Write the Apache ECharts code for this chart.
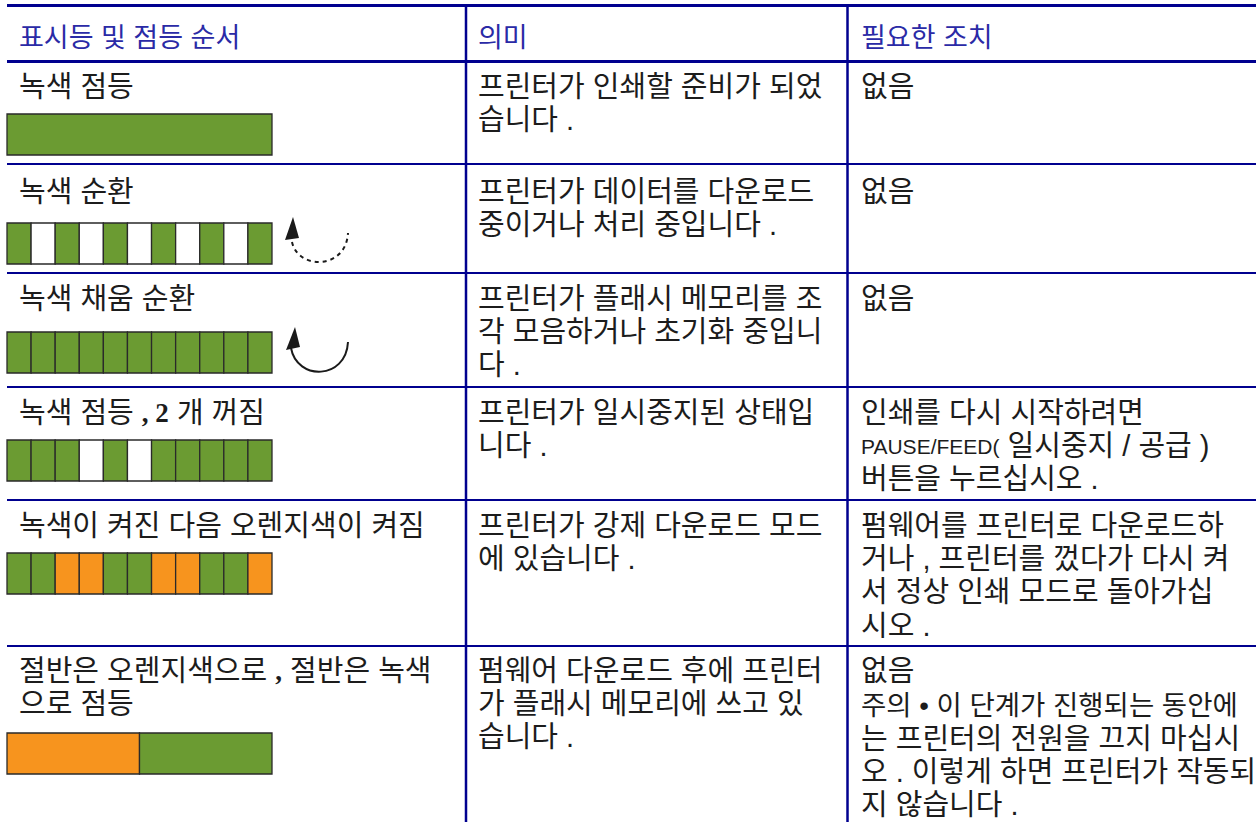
<!DOCTYPE html>
<html>
<head>
<meta charset="utf-8">
<script src="https://cdn.jsdelivr.net/npm/echarts@6/dist/echarts.min.js"></script>
<style>
html,body{margin:0;padding:0;background:#ffffff;}
#chart{width:1256px;height:825px;}
</style>
</head>
<body>
<div id="chart"></div>
<script>
// ---------- content ----------
const headers = ['표시등 및 점등 순서', '의미', '필요한 조치'];

const col1Text = [
  ['녹색 점등'],
  ['녹색 순환'],
  ['녹색 채움 순환'],
  ['녹색 점등 {b|, 2} 개 꺼짐'],
  ['녹색이 켜진 다음 오렌지색이 켜짐'],
  ['절반은 오렌지색으로 {b|,} 절반은 녹색', '으로 점등']
];
const col2Text = [
  ['프린터가 인쇄할 준비가 되었', '습니다 .'],
  ['프린터가 데이터를 다운로드', '중이거나 처리 중입니다 .'],
  ['프린터가 플래시 메모리를 조', '각 모음하거나 초기화 중입니', '다 .'],
  ['프린터가 일시중지된 상태입', '니다 .'],
  ['프린터가 강제 다운로드 모드', '에 있습니다 .'],
  ['펌웨어 다운로드 후에 프린터', '가 플래시 메모리에 쓰고 있', '습니다 .']
];
// each cell: list of paragraphs, each paragraph a list of lines
const col3Text = [
  [['없음']],
  [['없음']],
  [['없음']],
  [['인쇄를 다시 시작하려면', '{l|PAUSE/FEED(} 일시중지 / 공급 )', '버튼을 누르십시오 .']],
  [['펌웨어를 프린터로 다운로드하', '거나 , 프린터를 껐다가 다시 켜', '서 정상 인쇄 모드로 돌아가십', '시오 .']],
  [['없음'], ['{n|주의 • 이 단계가 진행되는 동안에}', '는 프린터의 전원을 끄지 마십시', '오 . 이렇게 하면 프린터가 작동되', '지 않습니다 .']]
];

// LED sequences: G = green on, W = off, O = orange on (each entry = one equal time slot)
const ledRows = [
  ['G'],
  ['G','W','G','W','G','W','G','W','G','W','G'],
  ['G','G','G','G','G','G','G','G','G','G','G'],
  ['G','G','G','W','G','W','G','G','G','G','G'],
  ['G','G','O','O','G','G','O','O','G','G','O'],
  ['O','G']
];
const ledCode = {W:0, G:1, O:2};

// ---------- layout / style ----------
const NAVY = '#00008f';
const HEAD = '#2a2aa6';
const INK = '#1c1c1c';
const palette = ['#ffffff', '#6b9b32', '#f7941e'];
const KFONT = '"Liberation Sans", "Noto Sans CJK KR", sans-serif';

const rowLines = [164, 273, 387, 500, 646];
const firstLineY = [87, 192, 299, 413, 526, 671];
const barTop = [114, 223, 332, 440, 553, 733];
const barH = 41;
const barLeft = 7, barW = 265;
const colX = [19, 478, 861];
const LH = 33.2;
const PARA_GAP = 1.5;

const graphics = [];
// table lines
graphics.push({type:'line', shape:{x1:7,y1:5.5,x2:1256,y2:5.5}, style:{stroke:NAVY,lineWidth:3}});
graphics.push({type:'line', shape:{x1:7,y1:61.5,x2:1256,y2:61.5}, style:{stroke:NAVY,lineWidth:3}});
rowLines.forEach(y => graphics.push({type:'line', shape:{x1:7,y1:y,x2:1256,y2:y}, style:{stroke:NAVY,lineWidth:2}}));
[466, 847.5].forEach(x => graphics.push({type:'line', shape:{x1:x,y1:4,x2:x,y2:822}, style:{stroke:NAVY,lineWidth:2.5}}));

// headers
headers.forEach((t, i) => graphics.push({
  type:'text', x:colX[i], y:38,
  style:{text:t, fill:HEAD, fontFamily:KFONT, fontSize:27, lineHeight:30, verticalAlign:'middle', align:'left'}
}));

const rich = {
  b:{fontFamily:'Liberation Serif', fontWeight:'bold', fontSize:27, lineHeight:LH, fill:INK},
  l:{fontFamily:'Liberation Sans', fontSize:21, lineHeight:LH, fill:INK},
  n:{fontFamily:KFONT, fontSize:27.5, lineHeight:LH, fill:INK}
};
function addBlock(lines, col, yCenterFirst) {
  graphics.push({
    type:'text', x:colX[col], y:yCenterFirst - LH / 2,
    style:{text:lines.join('\n'), fill:INK, fontFamily:KFONT, fontSize:29, lineHeight:LH,
      verticalAlign:'top', align:'left', rich:rich}
  });
}
col1Text.forEach((l, r) => addBlock(l, 0, firstLineY[r]));
col2Text.forEach((l, r) => addBlock(l, 1, firstLineY[r]));
col3Text.forEach((paras, r) => {
  let y = firstLineY[r];
  paras.forEach(p => {
    addBlock(p, 2, y);
    y += p.length * LH + PARA_GAP;
  });
});

// cycle arrows
graphics.push({type:'bezierCurve', shape:{x1:292,y1:242,cpx1:298,cpy1:270,cpx2:346,cpy2:270,x2:348,y2:233},
  style:{fill:null, stroke:'#1a1a1a', lineWidth:2, lineDash:[4,4]}});
graphics.push({type:'polygon', shape:{points:[[293,217],[285,240],[299,238]]}, style:{fill:'#1a1a1a'}});
graphics.push({type:'bezierCurve', shape:{x1:291,y1:348,cpx1:297,cpy1:381,cpx2:346,cpy2:380,x2:348,y2:342},
  style:{fill:null, stroke:'#1a1a1a', lineWidth:2}});
graphics.push({type:'polygon', shape:{points:[[295,327],[286,350],[300,347]]}, style:{fill:'#1a1a1a'}});

// ---------- grids for LED bars ----------
const grids = ledRows.map((p, r) => ({left:barLeft, top:barTop[r], width:barW, height:barH, containLabel:false}));
const xAxes = ledRows.map((p, r) => ({type:'value', gridIndex:r, min:0, max:p.length, show:false}));
const yAxes = ledRows.map((p, r) => ({type:'value', gridIndex:r, min:0, max:1, show:false}));
const series = ledRows.map((p, r) => ({
  type:'custom', xAxisIndex:r, yAxisIndex:r, silent:true, animation:false,
  data: p.map((c, i) => [i, ledCode[c]]),
  encode:{x:0},
  renderItem: function(params, api) {
    const i = api.value(0);
    const a = api.coord([i, 1]);
    const b = api.coord([i + 1, 0]);
    return {type:'rect', shape:{x:a[0], y:a[1], width:b[0]-a[0], height:b[1]-a[1]},
      style:{fill:palette[api.value(1)], stroke:'#2a2a2a', lineWidth:1.3}};
  }
}));

const chart = echarts.init(document.getElementById('chart'), null, {renderer:'svg'});
chart.setOption({
  backgroundColor:'#ffffff',
  animation:false,
  grid:grids, xAxis:xAxes, yAxis:yAxes, series:series,
  graphic:{elements:graphics}
});
</script>
</body>
</html>
